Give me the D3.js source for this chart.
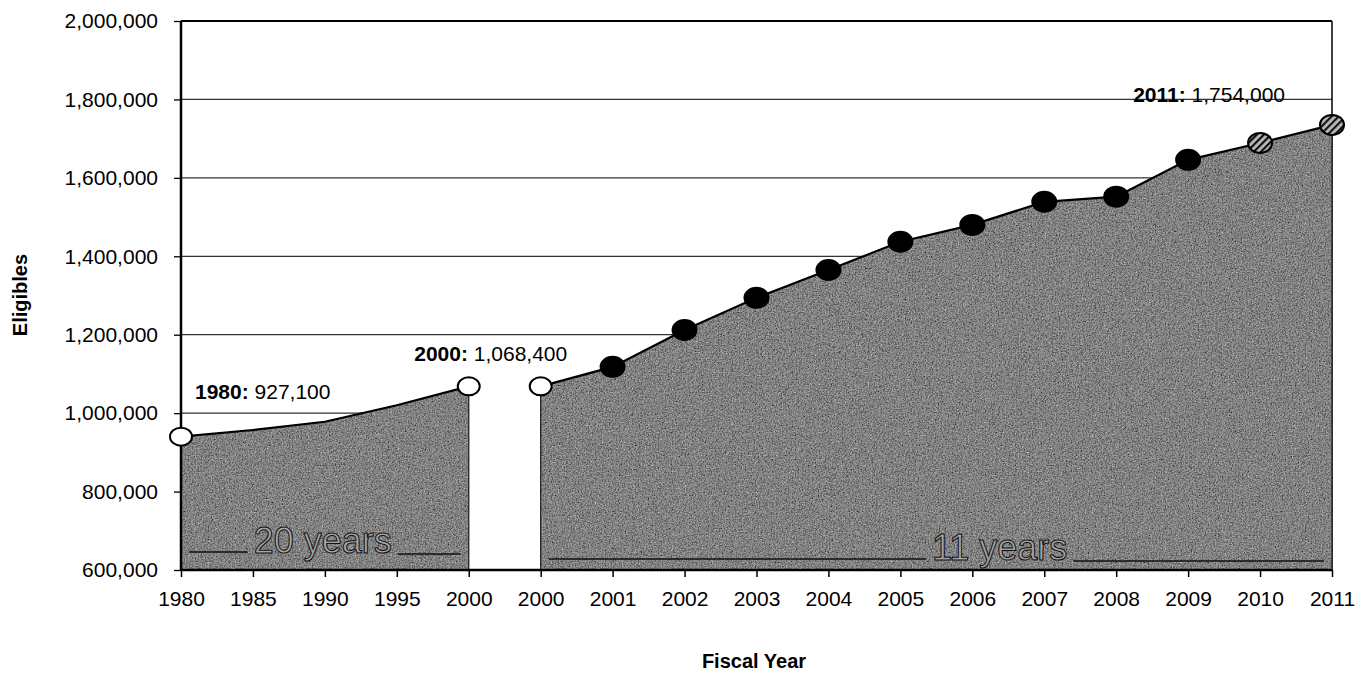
<!DOCTYPE html>
<html>
<head>
<meta charset="utf-8">
<script src="https://cdn.jsdelivr.net/npm/d3@7"></script>
<style>
  body { margin: 0; background: #fff; }
  text { font-family: "Liberation Sans", Arial, sans-serif; }
</style>
</head>
<body>
<div id="chart"></div>
<script>
// categories on the x axis (2000 appears twice: end of the 20-year span, start of the 11-year span)
const categories = ["1980", "1985", "1990", "1995", "2000", "2000", "2001", "2002", "2003",
  "2004", "2005", "2006", "2007", "2008", "2009", "2010", "2011"];
// eligibles
const eligibles = [940000, 957000, 978000, 1020000, 1068400, 1068400, 1118000, 1212000, 1294000,
  1365000, 1437000, 1480000, 1539000, 1552000, 1646000, 1689000, 1735000];
// which area each point belongs to
const segment = [0, 0, 0, 0, 0, 1, 1, 1, 1, 1, 1, 1, 1, 1, 1, 1, 1];
// marker style for each point
const markerType = ["open", null, null, null, "open", "open", "solid", "solid", "solid",
  "solid", "solid", "solid", "solid", "solid", "solid", "hatch", "hatch"];
const yTicks = [600000, 800000, 1000000, 1200000, 1400000, 1600000, 1800000, 2000000];
const callouts = [
  { i: 0, year: "1980:", value: " 927,100" },
  { i: 4, year: "2000:", value: " 1,068,400" },
  { i: 16, year: "2011:", value: " 1,754,000" }
];
const spans = [{ label: "20 years" }, { label: "11 years" }];

const W = 1365, H = 674;
const margin = { left: 181, right: 33, top: 21, bottom: 104 };
const width = W - margin.left - margin.right;
const height = H - margin.top - margin.bottom;
const FONT = '"Liberation Sans", Arial, sans-serif';

const svg = d3.select('#chart').append('svg')
  .attr('width', W)
  .attr('height', H);

const defs = svg.append('defs');

// scanned, speckled grey fill
const grain = defs.append('filter').attr('id', 'grain')
  .attr('x', 0).attr('y', 0).attr('width', 1).attr('height', 1);
grain.append('feTurbulence')
  .attr('type', 'fractalNoise').attr('baseFrequency', 0.7)
  .attr('numOctaves', 2).attr('seed', 7).attr('result', 'noise');
grain.append('feColorMatrix').attr('in', 'noise')
  .attr('type', 'saturate').attr('values', 0).attr('result', 'grey');
const ct = grain.append('feComponentTransfer').attr('in', 'grey').attr('result', 'speck');
['feFuncR', 'feFuncG', 'feFuncB'].forEach(f => {
  ct.append(f).attr('type', 'discrete').attr('tableValues', '0 0.04 0.12 0.22 0.33 0.5 0.85');
});
ct.append('feFuncA').attr('type', 'linear').attr('slope', 0).attr('intercept', 1);
grain.append('feComposite').attr('in', 'speck').attr('in2', 'SourceGraphic').attr('operator', 'in');

// hatched marker fill
const hatch = defs.append('pattern').attr('id', 'hatch')
  .attr('patternUnits', 'userSpaceOnUse').attr('width', 5).attr('height', 5)
  .attr('patternTransform', 'rotate(45)');
hatch.append('rect').attr('width', 5).attr('height', 5).attr('fill', '#bbb');
hatch.append('rect').attr('width', 2.2).attr('height', 5).attr('fill', '#111');

const g = svg.append('g')
  .attr('transform', 'translate(' + margin.left + ', ' + margin.top + ')');

// X Scale
const xScale = d3.scalePoint()
  .domain(d3.range(categories.length))
  .range([0, width]);
// fractional category position
const xAt = f => xScale(0) + f * xScale.step();

// Y Scale
const yScale = d3.scaleLinear()
  .domain([600000, 2000000])
  .range([height, 0]);

// gridlines
g.append('g')
  .selectAll('line')
  .data(yTicks.slice(1, -1))
  .enter().append('line')
  .attr('x1', 0).attr('x2', width)
  .attr('y1', d => yScale(d)).attr('y2', d => yScale(d))
  .attr('stroke', '#333').attr('stroke-width', 1.2);

// white break between the two spans
g.append('rect')
  .attr('x', xScale(4)).attr('width', xScale(5) - xScale(4))
  .attr('y', yScale(eligibles[4])).attr('height', height - yScale(eligibles[4]))
  .attr('fill', '#fff');

// frame
g.append('line').attr('x1', 0).attr('x2', width).attr('y1', 0).attr('y2', 0)
  .attr('stroke', '#000').attr('stroke-width', 2.2);
g.append('line').attr('x1', width).attr('x2', width).attr('y1', 0).attr('y2', height)
  .attr('stroke', '#000').attr('stroke-width', 1.5);

// areas
const pts = eligibles.map((v, i) => ({ i: i, v: v, seg: segment[i] }));
const area = d3.area()
  .x(d => xScale(d.i))
  .y0(height)
  .y1(d => yScale(d.v));
const line = d3.line()
  .x(d => xScale(d.i))
  .y(d => yScale(d.v));

const groups = d3.groups(pts, d => d.seg).map(d => d[1]);
groups.forEach(seg => {
  g.append('path').datum(seg)
    .attr('d', area)
    .attr('fill', '#555')
    .attr('filter', 'url(#grain)');
  g.append('path').datum(seg)
    .attr('d', line)
    .attr('fill', 'none')
    .attr('stroke', '#000')
    .attr('stroke-width', 2.2);
  // thin dark edges down to the axis
  const last = seg[seg.length - 1], first = seg[0];
  g.append('line')
    .attr('x1', xScale(first.i)).attr('x2', xScale(first.i))
    .attr('y1', yScale(first.v)).attr('y2', height)
    .attr('stroke', '#222').attr('stroke-width', 1.3);
  g.append('line')
    .attr('x1', xScale(last.i)).attr('x2', xScale(last.i))
    .attr('y1', yScale(last.v)).attr('y2', height)
    .attr('stroke', '#222').attr('stroke-width', 1.3);
});

// span annotations ("20 years", "11 years")
const spanLayout = [
  { from: 0, to: 4, cx: xAt(1.97), y: height - 18 },
  { from: 5, to: 16, cx: xAt(11.38), y: height - 11 }
];
spans.forEach((s, k) => {
  const L = spanLayout[k];
  const t = g.append('text')
    .attr('x', L.cx).attr('y', L.y + 1)
    .attr('text-anchor', 'middle')
    .attr('font-size', '36px')
    .attr('fill', '#a5a5a5')
    .attr('stroke', '#111')
    .attr('stroke-width', 1)
    .text(s.label);
  const half = t.node().getComputedTextLength() / 2;
  g.append('line')
    .attr('x1', xScale(L.from) + 8).attr('x2', L.cx - half - 6)
    .attr('y1', L.y).attr('y2', L.y)
    .attr('stroke', '#111').attr('stroke-width', 1.6);
  g.append('line')
    .attr('x1', L.cx + half + 6).attr('x2', xScale(L.to) - 8)
    .attr('y1', L.y + 2).attr('y2', L.y + 2)
    .attr('stroke', '#111').attr('stroke-width', 1.6);
});

// axes
const xAxisCall = d3.axisBottom(xScale)
  .tickSize(7)
  .tickFormat(i => categories[i]);
const xAxisGroup = g.append('g')
  .attr('transform', 'translate(0, ' + height + ')')
  .call(xAxisCall);
xAxisGroup.select('.domain').attr('stroke', '#000').attr('stroke-width', 2.5)
  .attr('d', 'M0,0H' + width);
xAxisGroup.selectAll('.tick line').attr('stroke', '#000').attr('stroke-width', 1.5);
xAxisGroup.selectAll('text')
  .attr('y', 21)
  .attr('font-size', '21px')
  .attr('font-family', FONT)
  .attr('fill', '#000');

const yAxisCall = d3.axisLeft(yScale)
  .tickValues(yTicks)
  .tickSize(7)
  .tickPadding(16)
  .tickFormat(d3.format(','));
const yAxisGroup = g.append('g').call(yAxisCall);
yAxisGroup.select('.domain').attr('stroke', '#000').attr('stroke-width', 2.5)
  .attr('d', 'M0,0V' + height);
yAxisGroup.selectAll('.tick line').attr('stroke', '#000').attr('stroke-width', 1.3);
yAxisGroup.selectAll('text')
  .attr('font-size', '21px')
  .attr('font-family', FONT)
  .attr('fill', '#000');

// markers
g.append('g')
  .selectAll('ellipse')
  .data(pts.filter(d => markerType[d.i]))
  .enter().append('ellipse')
  .attr('cx', d => xScale(d.i))
  .attr('cy', d => yScale(d.v))
  .attr('rx', d => markerType[d.i] === 'open' ? 11 : 12)
  .attr('ry', d => markerType[d.i] === 'open' ? 9 : 10)
  .attr('fill', d => markerType[d.i] === 'open' ? '#fff' : (markerType[d.i] === 'solid' ? '#000' : 'url(#hatch)'))
  .attr('stroke', '#000')
  .attr('stroke-width', 2);

// value callouts
const calloutLayout = [
  { dx: 14, dy: -38, anchor: 'start' },
  { dx: 22, dy: -25, anchor: 'middle' },
  { dx: -47, dy: -23, anchor: 'end' }
];
callouts.forEach((c, k) => {
  const L = calloutLayout[k];
  const t = g.append('text')
    .attr('x', xScale(c.i) + L.dx)
    .attr('y', yScale(eligibles[c.i]) + L.dy)
    .attr('text-anchor', L.anchor)
    .attr('font-size', '21px')
    .attr('fill', '#000');
  t.append('tspan').attr('font-weight', 'bold').text(c.year);
  t.append('tspan').text(c.value);
});

// axis titles
svg.append('text')
  .attr('transform', 'translate(27, 295) rotate(-90)')
  .attr('text-anchor', 'middle')
  .attr('font-size', '20px')
  .attr('font-weight', 'bold')
  .text('Eligibles');

svg.append('text')
  .attr('x', 754).attr('y', 668)
  .attr('text-anchor', 'middle')
  .attr('font-size', '20px')
  .attr('font-weight', 'bold')
  .text('Fiscal Year');
</script>
</body>
</html>
